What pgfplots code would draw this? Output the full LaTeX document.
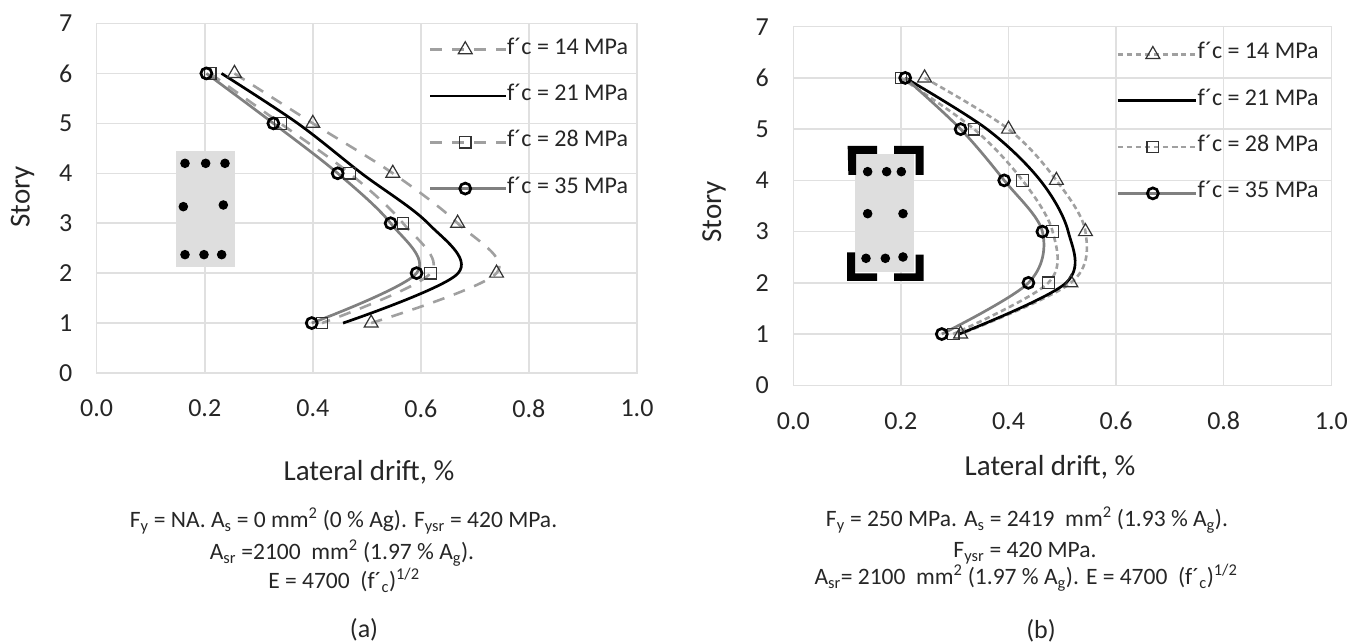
\documentclass[border=0pt]{standalone}
\usepackage{pgfplots}
\pgfplotsset{compat=1.18}
\usepackage{fontspec}
\setmainfont{Carlito}
\definecolor{gridc}{HTML}{E0E0E0}
\definecolor{dashc}{HTML}{A0A0A0}
\definecolor{linec}{HTML}{808080}
\definecolor{txt}{HTML}{262626}
\pgfplotsset{
  base/.style={
    scale only axis, xmin=0, xmax=1, ymin=0, ymax=7,
    xtick={0,0.2,0.4,0.6,0.8,1}, ytick={0,1,2,3,4,5,6,7},
    xticklabel style={/pgf/number format/fixed,/pgf/number format/fixed zerofill,/pgf/number format/precision=1,/pgf/number format/assume math mode=true,font=\fontsize{26}{28}\selectfont,text=txt,anchor=center,yshift=-35.5pt},
    yticklabel style={/pgf/number format/assume math mode=true,font=\fontsize{26}{28}\selectfont,text=txt,anchor=center,xshift=-31pt},
    major tick length=0pt, grid=major,
    grid style={gridc,line width=1.5pt},
    axis line style={gridc,line width=1.5pt},
    clip=false,
    legend cell align=left,
    legend image code/.code={\path (0pt,0pt)--(\lgw,0pt);\draw[mark repeat=2,mark phase=2,##1] plot coordinates {(0pt,0pt)(35pt,0pt)(70pt,0pt)};},
    every axis plot/.append style={smooth,tension=0.55},
  },
  s14/.style={dashc,line width=2.6pt,dash pattern=#1,mark=triangle,mark size=8pt,mark options={solid,draw=black!80,fill=none,line width=1.2pt}},
  s21/.style={black,line width=2.7pt,no marks},
  s28/.style={dashc,line width=2.6pt,dash pattern=#1,mark=square,mark size=5.8pt,mark options={solid,draw=black!80,fill=none,line width=1.2pt}},
  s35/.style={linec,line width=2.7pt,mark=o,mark size=5.5pt,mark options={solid,draw=black,fill=none,line width=2.7pt}},
  leg/.style={draw=none,fill=none,font=\fontsize{24}{26}\selectfont,text=txt,row sep=25.3pt,inner sep=0pt,
    nodes={inner sep=0pt,text height=15pt,text depth=6pt}},
}
\begin{document}
\begin{tikzpicture}[x=1pt,y=1pt]
\path (0,0) rectangle (1364,644);
\def\lgw{75.5pt}
\begin{axis}[base,at={(96.7pt,271pt)},anchor=south west,width=540.3pt,height=349.5pt,
  legend style={at={(332pt,334pt)},anchor=north west,leg}]
\addplot[s14={on 12pt off 10pt}] coordinates {(0.255,6)(0.400,5)(0.548,4)(0.668,3)(0.740,2)(0.508,1)};
\addlegendentry{f´c = 14 MPa}
\addplot[s21] coordinates {(0.231,6)(0.372,5)(0.490,4)(0.613,3)(0.669,2)(0.456,1)};
\addlegendentry{f´c = 21 MPa}
\addplot[s28={on 12pt off 10pt}] coordinates {(0.210,6)(0.340,5)(0.468,4)(0.567,3)(0.618,2)(0.417,1)};
\addlegendentry{f´c = 28 MPa}
\addplot[s35] coordinates {(0.203,6)(0.327,5)(0.446,4)(0.544,3)(0.592,2)(0.398,1)};
\addlegendentry{f´c = 35 MPa}
\end{axis}
\def\lgw{78.5pt}
\begin{axis}[base,at={(793.3pt,258.7pt)},anchor=south west,width=538pt,height=358.6pt,
  legend style={at={(323pt,341.5pt)},anchor=north west,leg}]
\addplot[s14={on 5.5pt off 3.5pt}] coordinates {(0.244,6)(0.400,5)(0.489,4)(0.543,3)(0.516,2)(0.311,1)};
\addlegendentry{f´c = 14 MPa}
\addplot[s21] coordinates {(0.208,6)(0.360,5)(0.459,4)(0.511,3)(0.507,2)(0.308,1)};
\addlegendentry{f´c = 21 MPa}
\addplot[s28={on 5.5pt off 3.5pt}] coordinates {(0.200,6)(0.336,5)(0.426,4)(0.482,3)(0.474,2)(0.297,1)};
\addlegendentry{f´c = 28 MPa}
\addplot[s35] coordinates {(0.208,6)(0.311,5)(0.392,4)(0.463,3)(0.437,2)(0.276,1)};
\addlegendentry{f´c = 35 MPa}
\end{axis}
\begin{scope}[shift={(0pt,644pt)},x=1pt,y=-1pt,every node/.style={text=txt,align=center,inner sep=0pt}]
\begin{scope}[shift={(150pt,-130pt)},x=0.3333pt,y=-0.3333pt]
\fill[black!13] (77,62) rectangle (254,411);
\foreach \a/\b in {105/100,167/100,225/100,100/230,220/225,105/374,162/374,215/374}{\fill[black] (\a,\b) circle (4.8pt);}
\end{scope}
\begin{scope}[shift={(820pt,-130pt)},x=0.3333pt,y=-0.3333pt]
\fill[black!13] (105,72) rectangle (283,427);
\foreach \a/\b in {143/125,200/125,244/125,143/251,249/251,138/385,196/385,249/381}{\fill[black] (\a,\b) circle (4.8pt);}
\fill[black] (83,48)--(171,48)--(171,72)--(108,72)--(108,135)--(85,135)--cycle;
\fill[black] (222,48)--(311,48)--(311,135)--(287,135)--(287,72)--(222,72)--cycle;
\fill[black] (81,367)--(105,367)--(105,430)--(171,430)--(171,453)--(81,453)--cycle;
\fill[black] (287,374)--(311,374)--(311,453)--(222,453)--(222,430)--(287,430)--cycle;
\end{scope}
\def\lb{\fontsize{29}{32}\selectfont}
\node[rotate=90,font=\lb] at (22.5,197) {Story};
\node[rotate=90,font=\lb] at (714,212) {Story};
\node[font=\lb] at (369,472.7) {Lateral drift, \%};
\node[font=\lb] at (1050,467) {Lateral drift, \%};
\def\fs{\fontsize{23.5}{26}\selectfont}
\node[font=\fs] at (343.5,521) {F\textsubscript{y} = NA. A\textsubscript{s} = 0 mm\textsuperscript{2} (0 \% Ag). F\textsubscript{ysr} = 420 MPa.};
\node[font=\fs] at (342,553) {A\textsubscript{sr} =2100 \ mm\textsuperscript{2} (1.97 \% A\textsubscript{g}).};
\node[font=\fs] at (344,580) {E = 4700 \ (f´\textsubscript{c})\textsuperscript{1/2}};
\node[font=\fontsize{26}{28}\selectfont] at (364,630) {(a)};
\node[font=\fs] at (1027,520) {F\textsubscript{y} = 250 MPa. A\textsubscript{s} = 2419 \ mm\textsuperscript{2} (1.93 \% A\textsubscript{g}).};
\node[font=\fs] at (1025,553) {F\textsubscript{ysr} = 420 MPa.};
\node[font=\fs] at (1026,578) {A\textsubscript{sr}= 2100 \ mm\textsuperscript{2} (1.97 \% A\textsubscript{g}). E = 4700 \ (f´\textsubscript{c})\textsuperscript{1/2}};
\node[font=\fontsize{26}{28}\selectfont] at (1041,631) {(b)};
\end{scope}
\end{tikzpicture}
\end{document}
